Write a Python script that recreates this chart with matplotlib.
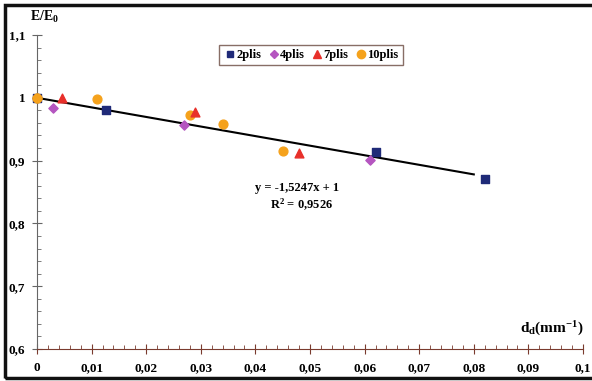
import matplotlib
matplotlib.use("Agg")
import matplotlib.pyplot as plt
from matplotlib.ticker import MultipleLocator, FuncFormatter
from matplotlib.lines import Line2D
from matplotlib.patches import Rectangle
import numpy as np

x2 = [0.0, 0.0127, 0.062, 0.082]
y2 = [1.0, 0.981, 0.913, 0.870]
x4 = [0.003, 0.027, 0.061]
y4 = [0.983, 0.956, 0.901]
x7 = [0.0045, 0.029, 0.048]
y7 = [0.999, 0.977, 0.912]
x10 = [0.0, 0.011, 0.028, 0.034, 0.045]
y10 = [1.0, 0.998, 0.973, 0.959, 0.916]
slope, intercept = -1.5247, 1.0
fit_x = [0.0, 0.08]

plt.rcParams['font.family'] = ['Liberation Serif', 'DejaVu Serif']
plt.rcParams['font.weight'] = 'bold'
plt.rcParams['mathtext.fontset'] = 'custom'
plt.rcParams['mathtext.rm'] = 'Liberation Serif:bold'
plt.rcParams['mathtext.bf'] = 'Liberation Serif:bold'
plt.rcParams['mathtext.it'] = 'Liberation Serif:bold'

fig = plt.figure(figsize=(5.92, 3.81), dpi=100)
ax = fig.add_axes([37/592, 1-349/381, 546/592, 314/381])

fx = np.array(fit_x)
ax.plot(fx, slope*fx + intercept, color='black', lw=1.5, zorder=2)

ax.scatter(x2, y2, marker='s', s=30, color='#1F2A78', zorder=4, clip_on=False)
ax.scatter(x4, y4, marker='D', s=22, color='#B555C0', zorder=4)
ax.scatter(x7, y7, marker='^', s=40, color='#E8302A', zorder=4)
ax.scatter(x10, y10, marker='o', s=40, color='#F5A21C', zorder=3, clip_on=False)
ax.scatter(x10[:1], y10[:1], marker='o', s=40, color='#F5A21C', zorder=5, clip_on=False)

ax.set_xlim(0, 0.1)
ax.set_ylim(0.6, 1.1)
ax.xaxis.set_major_locator(MultipleLocator(0.01))
ax.xaxis.set_minor_locator(MultipleLocator(0.002))
ax.yaxis.set_major_locator(MultipleLocator(0.1))
ax.yaxis.set_minor_locator(MultipleLocator(0.02))

def fmt(v, pos):
    s = ('%.2f' % v).rstrip('0').rstrip('.')
    return s.replace('.', ',')
ax.xaxis.set_major_formatter(FuncFormatter(fmt))
ax.yaxis.set_major_formatter(FuncFormatter(fmt))

for s in ['top', 'right']:
    ax.spines[s].set_visible(False)
ax.spines['bottom'].set_color('#7A3B2E')
ax.spines['left'].set_color('#666666')
ax.tick_params(axis='x', which='major', direction='inout', length=7, color='#7A3B2E',
               labelsize=9.5, pad=6)
ax.tick_params(axis='x', which='minor', direction='in', length=3, color='#7A3B2E')
ax.tick_params(axis='y', which='major', direction='inout', length=7, color='#666666',
               labelsize=9.5, pad=5)
ax.tick_params(axis='y', which='minor', direction='in', length=3, color='#666666')
for lab in ax.get_xticklabels() + ax.get_yticklabels():
    lab.set_fontweight('bold')

fig.text(30/592, 1-17/381, r'E/E$_{0}$', fontsize=10, fontweight='bold', va='center', ha='left')
fig.text(584/592, 1-329/381, r'd$_{d}$(mm$^{-1}$)', fontsize=11, fontweight='bold',
         va='center', ha='right')

ax.text(0.040, 0.856, 'y = -1,5247x + 1', fontsize=9, fontweight='bold', ha='left', va='center')
ax.text(0.0427, 0.829, r'R$^{2}$ = 0,9526', fontsize=9, fontweight='bold', ha='left', va='center')

handles = [Line2D([], [], marker='s', ls='', color='#1F2A78', ms=5),
           Line2D([], [], marker='D', ls='', color='#B555C0', ms=4.5),
           Line2D([], [], marker='^', ls='', color='#E8302A', ms=6),
           Line2D([], [], marker='o', ls='', color='#F5A21C', ms=6)]
leg = fig.legend(handles, ['2plis', '4plis', '7plis', '10plis'], ncol=4,
                 loc='center', bbox_to_anchor=(311/592, 1-55/381),
                 handletextpad=0.0, columnspacing=0.5, handlelength=1.0,
                 fancybox=False, edgecolor='#6B4A40', prop={'weight': 'bold', 'size': 9},
                 borderpad=0.35, frameon=True)
leg.get_frame().set_linewidth(1.0)

fig.patches.append(Rectangle((4.5/592, 3/381), 600/592, 373/381, transform=fig.transFigure,
                             fill=False, edgecolor='#111111', lw=2.5, clip_on=False))

fig.savefig('out.png', dpi=100)
